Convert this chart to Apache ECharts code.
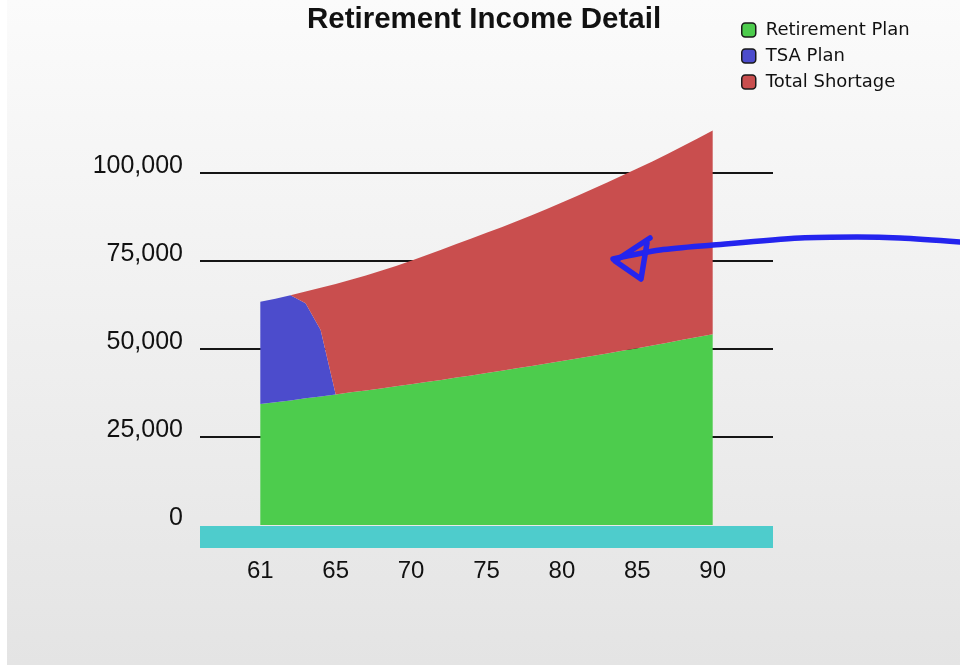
<!DOCTYPE html>
<html>
<head>
<meta charset="utf-8">
<script src="https://cdn.jsdelivr.net/npm/echarts@6/dist/echarts.min.js"></script>
<style>
  html, body { margin: 0; padding: 0; background: #ffffff; }
  #chart { position: absolute; left: 7px; top: 0; width: 953px; height: 665px;
    background: linear-gradient(#fbfbfb, #e4e4e4); }
</style>
</head>
<body>
<div id="chart"></div>
<script>
// ages that carry data (first point is labelled "61" in the original)
const ages = [60, 61, 62, 63, 64, 65, 66, 67, 68, 69, 70, 71, 72, 73, 74, 75,
  76, 77, 78, 79, 80, 81, 82, 83, 84, 85, 86, 87, 88, 89, 90];
// the axis runs a little past the data on both sides
const axisAges = [56, 57, 58, 59, 60, 61, 62, 63, 64, 65, 66, 67, 68, 69, 70,
  71, 72, 73, 74, 75, 76, 77, 78, 79, 80, 81, 82, 83, 84, 85, 86, 87, 88, 89,
  90, 91, 92, 93, 94];
const tickAges = [60, 65, 70, 75, 80, 85, 90];
const tickLabels = ['61', '65', '70', '75', '80', '85', '90'];

const retirementPlan = [34400, 34900, 35400, 36000, 36500, 37100, 37700, 38200,
  38800, 39400, 40000, 40600, 41200, 41900, 42500, 43200, 43800, 44500, 45200,
  45900, 46600, 47300, 48000, 48700, 49500, 50200, 51000, 51800, 52600, 53400, 54200];
const tsaPlan = [29000, 29400, 29900, 27000, 18900, 0, null, null, null, null,
  null, null, null, null, null, null, null, null, null, null, null, null, null,
  null, null, null, null, null, null, null, null];
const totalShortage = [null, null, 0, 3300, 12000, 31400, 32000, 32700, 33400,
  34200, 35100, 36000, 37000, 37900, 38900, 39800, 40800, 41800, 42800, 43900,
  45000, 46200, 47400, 48600, 49800, 51100, 52300, 53600, 55000, 56400, 57900];

const seriesNames = ['Retirement Plan', 'TSA Plan', 'Total Shortage'];
const seriesColors = ['#4dcc4d', '#4c4ccc', '#c94e4e'];

const FONT = 'Liberation Sans, Arial, sans-serif';
const INK = '#111111';

const chart = echarts.init(document.getElementById('chart'), null, { renderer: 'canvas' });

function areaSeries(name, values, color) {
  return {
    name: name,
    type: 'line',
    stack: 'income',
    data: axisAges.map((a) => {
      const i = ages.indexOf(a);
      return i < 0 ? null : values[i];
    }),
    showSymbol: false,
    smooth: false,
    color: color,
    itemStyle: { color: color },
    lineStyle: { width: 0 },
    areaStyle: { color: color, opacity: 1 },
  };
}

chart.setOption({
  animation: false,
  backgroundColor: 'transparent',
  title: {
    text: 'Retirement Income Detail',
    left: 300, top: 5, padding: 0,
    textStyle: { fontFamily: FONT, fontSize: 29.5, fontWeight: 'bold', color: INK },
  },
  legend: {
    orient: 'vertical',
    left: 734, top: 21, padding: 0,
    itemWidth: 14, itemHeight: 14, itemGap: 8,
    icon: 'roundRect',
    itemStyle: { borderColor: '#1a1a1a', borderWidth: 1.5 },
    textStyle: { fontFamily: 'DejaVu Sans', fontSize: 18, color: INK, padding: [0, 0, 0, 5] },
    data: seriesNames,
  },
  grid: { left: 193, right: 187, top: 85, bottom: 140 },
  xAxis: {
    type: 'category',
    data: axisAges.map(String),
    boundaryGap: false,
    offset: 12,
    axisLine: { show: true, onZero: false, lineStyle: { color: '#4ecccc', width: 22, cap: 'butt' } },
    axisTick: { show: false },
    splitLine: { show: false },
    axisLabel: {
      interval: (idx, v) => tickAges.indexOf(+v) >= 0,
      formatter: (v) => tickLabels[tickAges.indexOf(+v)] || '',
      color: INK, fontFamily: FONT, fontSize: 24, margin: 22,
    },
  },
  yAxis: {
    type: 'value',
    min: 0, max: 125000, interval: 25000,
    axisLine: { show: false },
    axisTick: { show: false },
    splitLine: {
      show: true,
      lineStyle: { color: ['transparent', '#151515', '#151515', '#151515', '#151515', 'transparent'], width: 2 },
    },
    axisLabel: {
      color: INK, fontFamily: FONT, fontSize: 25, margin: 17,
      verticalAlign: 'bottom', lineHeight: 14,
      formatter: (v) => (v >= 125000 ? '' : String(v).replace(/\B(?=(\d{3})+(?!\d))/g, ',')),
    },
  },
  series: [
    areaSeries(seriesNames[0], retirementPlan, seriesColors[0]),
    areaSeries(seriesNames[1], tsaPlan, seriesColors[1]),
    areaSeries(seriesNames[2], totalShortage, seriesColors[2]),
  ],
  // hand-drawn annotation arrow from the screenshot
  graphic: [
    {
      type: 'polyline', z: 100,
      shape: { points: [[953, 242], [893, 238], [850, 237], [793, 238], [706, 245], [653, 250], [606, 259]], smooth: 0.3 },
      style: { stroke: '#2424ee', lineWidth: 5.5, fill: null, lineCap: 'round', lineJoin: 'round' },
    },
    {
      type: 'polyline', z: 100,
      shape: { points: [[643, 238], [608, 261], [634, 279], [640, 243]] },
      style: { stroke: '#2424ee', lineWidth: 5.5, fill: null, lineCap: 'round', lineJoin: 'round' },
    },
  ],
});
</script>
</body>
</html>
